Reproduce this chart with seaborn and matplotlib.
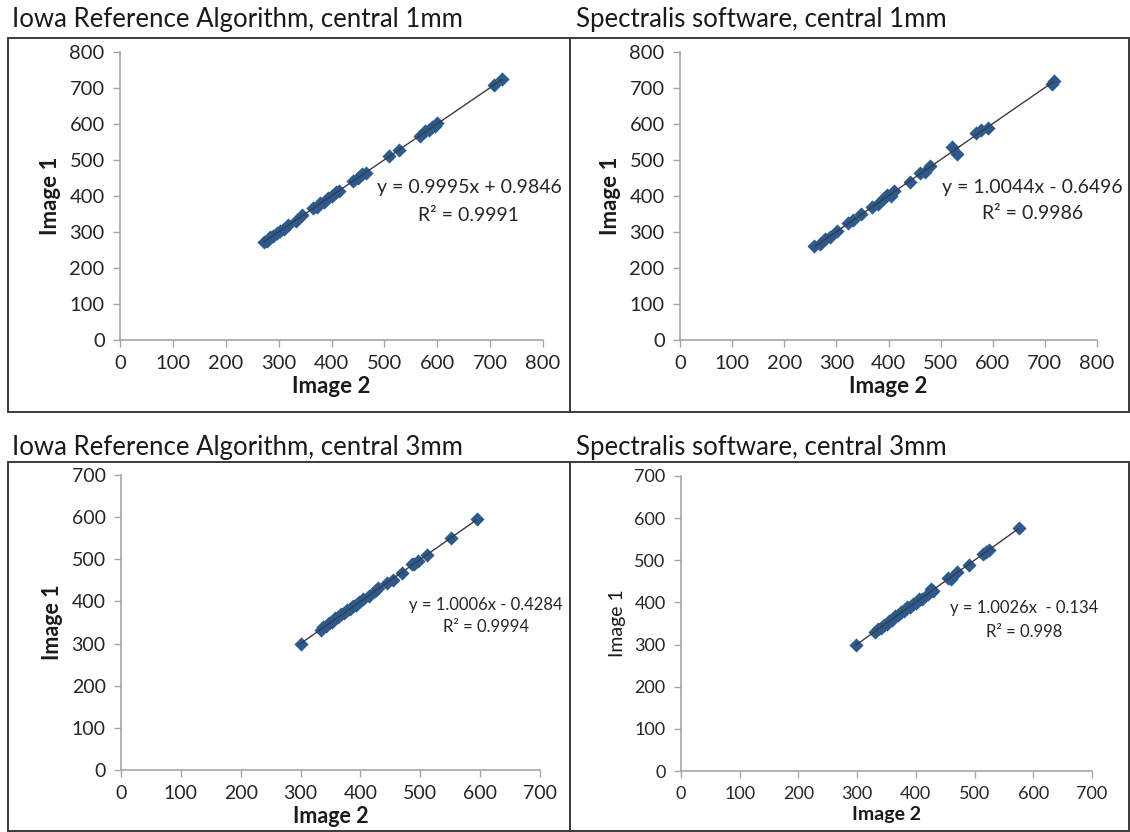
import numpy as np
import pandas as pd
import seaborn as sns
import matplotlib
matplotlib.use("Agg")
import matplotlib.pyplot as plt
from matplotlib.patches import Rectangle

# values (Image 2 on x, Image 1 on y)
iowa_1mm_x = [272, 278, 284, 290, 296, 302, 310, 318, 332, 345, 365, 372, 378, 386,
              393, 400, 408, 415, 440, 450, 458, 466, 508, 528, 568, 576, 584, 590,
              596, 600, 708, 722]
iowa_1mm_y = [273, 276, 287, 289, 298, 304, 308, 320, 331, 347, 367, 370, 381, 384,
              395, 399, 411, 414, 442, 449, 461, 464, 510, 527, 566, 580, 582, 593,
              594, 603, 707, 725]

spec_1mm_x = [258, 268, 278, 288, 302, 322, 332, 348, 368, 380, 392, 398, 404, 410,
              442, 460, 470, 480, 522, 532, 568, 578, 590, 714, 718]
spec_1mm_y = [260, 266, 280, 285, 304, 326, 333, 349, 370, 377, 394, 403, 401, 413,
              440, 463, 468, 482, 535, 517, 575, 582, 590, 712, 720]

iowa_3mm_x = [300, 334, 338, 343, 348, 353, 358, 363, 368, 373, 378, 383, 388, 393,
              398, 404, 414, 424, 430, 444, 455, 470, 486, 490, 496, 512, 552, 594]
iowa_3mm_y = [300, 333, 339, 341, 349, 352, 360, 362, 369, 372, 380, 382, 389, 392,
              398, 405, 412, 425, 432, 444, 452, 468, 488, 488, 497, 511, 551, 595]

spec_3mm_x = [298, 330, 335, 340, 345, 350, 355, 360, 365, 370, 375, 380, 385, 390,
              395, 400, 405, 410, 420, 425, 430, 455, 460, 470, 490, 515, 520, 525, 575]
spec_3mm_y = [298, 330, 338, 339, 347, 349, 357, 359, 367, 369, 378, 379, 388, 389,
              397, 399, 408, 409, 421, 432, 428, 458, 456, 472, 490, 516, 519, 524, 576]

titles = ["Iowa Reference Algorithm, central 1mm", "Spectralis software, central 1mm",
          "Iowa Reference Algorithm, central 3mm", "Spectralis software, central 3mm"]
equations = ["y = 0.9995x + 0.9846", "y = 1.0044x - 0.6496",
             "y = 1.0006x - 0.4284", "y = 1.0026x  - 0.134"]
r_squared = ["R² = 0.9991", "R² = 0.9986", "R² = 0.9994", "R² = 0.998"]
axis_max = [800, 800, 700, 700]

sns.set_style("white")
plt.rcParams["font.family"] = ["Lato", "DejaVu Sans"]

W, H = 1130, 832
fig = plt.figure(figsize=(W / 100, H / 100), dpi=100)

def fx(px):
    return px / W

def fy(px):
    return 1 - px / H

# panel frames: (left, top, right, bottom) in pixels
frames = [(8, 38, 570, 412), (570, 38, 1129, 412), (8, 462, 570, 831), (570, 462, 1129, 831)]
for l, t, r, b in frames:
    fig.add_artist(Rectangle((fx(l), fy(b)), fx(r - l), (b - t) / H, transform=fig.transFigure,
                             fill=False, edgecolor="#3a3a3a", linewidth=1.4))

title_pos = [(12, 19), (576, 19), (12, 447), (576, 447)]
for (x, y), t in zip(title_pos, titles):
    fig.text(fx(x), fy(y), t, fontsize=18.5, color="#1a1a1a", va="center", ha="left")

# axes boxes: (x0, y_top, x1, y_bottom) in pixels
boxes = [(120, 52, 543, 340), (680, 52, 1097, 340), (121, 475, 540, 770), (681, 476, 1092, 771)]
eq_pos = [(0.825, 0.528, 0.434), (0.845, 0.53, 0.44), (0.871, 0.559, 0.485), (0.835, 0.553, 0.471)]
tick_fs = [14.5, 14.5, 14, 13]
lab_fs = [16, 16, 15.5, 14]
eq_fs = [14, 14, 12, 12]

series = [(iowa_1mm_x, iowa_1mm_y), (spec_1mm_x, spec_1mm_y),
          (iowa_3mm_x, iowa_3mm_y), (spec_3mm_x, spec_3mm_y)]

for i, (xs, ys) in enumerate(series):
    x0, y0, x1, y1 = boxes[i]
    ax = fig.add_axes([fx(x0), fy(y1), fx(x1 - x0), (y1 - y0) / H])
    df = pd.DataFrame({"Image 2": xs, "Image 1": ys})
    sns.regplot(data=df, x="Image 2", y="Image 1", ax=ax, ci=None, marker="D",
                scatter_kws={"s": 52, "color": "#2c5a8e", "edgecolor": "#2c5a8e",
                             "linewidths": 0, "alpha": 1, "zorder": 2},
                line_kws={"color": "#3c3c3c", "linewidth": 1, "zorder": 3})
    m = axis_max[i]
    ax.set_xlim(0, m)
    ax.set_ylim(0, m)
    ax.set_xticks(np.arange(0, m + 1, 100))
    ax.set_yticks(np.arange(0, m + 1, 100))
    for s in ["top", "right"]:
        ax.spines[s].set_visible(False)
    for s in ["left", "bottom"]:
        ax.spines[s].set_color("#a6a6a6")
        ax.spines[s].set_linewidth(1.2)
    ax.tick_params(direction="out", length=5, width=1, color="#a6a6a6",
                   labelsize=tick_fs[i], labelcolor="#262626", pad=6,
                   left=True, bottom=True)
    weight_y = "normal" if i == 3 else "bold"
    ax.set_xlabel("Image 2", fontsize=lab_fs[i], fontweight="bold", color="#1a1a1a", labelpad=3)
    ax.set_ylabel("Image 1", fontsize=lab_fs[i], fontweight=weight_y, color="#1a1a1a", labelpad=6)
    ex, ey1, ey2 = eq_pos[i]
    ax.text(ex, ey1, equations[i], transform=ax.transAxes, fontsize=eq_fs[i],
            color="#262626", ha="center", va="center")
    ax.text(ex, ey2, r_squared[i], transform=ax.transAxes, fontsize=eq_fs[i],
            color="#262626", ha="center", va="center")

fig.savefig("out.png", dpi=100)
